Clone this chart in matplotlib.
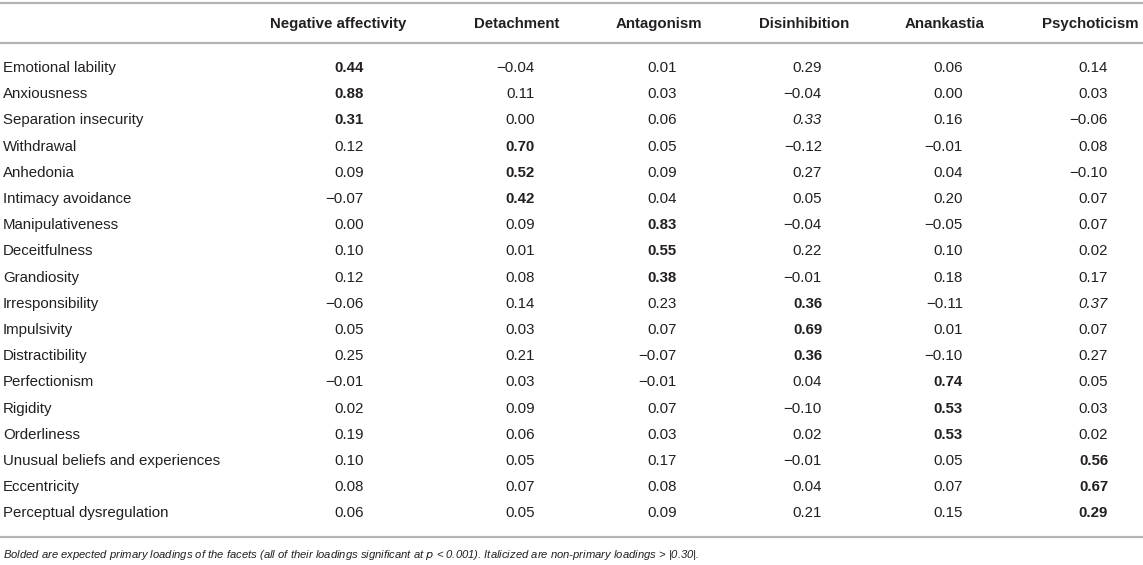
import matplotlib.pyplot as plt

# table data
columns = ["Negative affectivity", "Detachment", "Antagonism",
           "Disinhibition", "Anankastia", "Psychoticism"]
facets = ["Emotional lability", "Anxiousness", "Separation insecurity",
          "Withdrawal", "Anhedonia", "Intimacy avoidance",
          "Manipulativeness", "Deceitfulness", "Grandiosity",
          "Irresponsibility", "Impulsivity", "Distractibility",
          "Perfectionism", "Rigidity", "Orderliness",
          "Unusual beliefs and experiences", "Eccentricity",
          "Perceptual dysregulation"]

negative_affectivity = [0.44, 0.88, 0.31, 0.12, 0.09, -0.07, 0.00, 0.10, 0.12,
                        -0.06, 0.05, 0.25, -0.01, 0.02, 0.19, 0.10, 0.08, 0.06]
detachment = [-0.04, 0.11, 0.00, 0.70, 0.52, 0.42, 0.09, 0.01, 0.08,
              0.14, 0.03, 0.21, 0.03, 0.09, 0.06, 0.05, 0.07, 0.05]
antagonism = [0.01, 0.03, 0.06, 0.05, 0.09, 0.04, 0.83, 0.55, 0.38,
              0.23, 0.07, -0.07, -0.01, 0.07, 0.03, 0.17, 0.08, 0.09]
disinhibition = [0.29, -0.04, 0.33, -0.12, 0.27, 0.05, -0.04, 0.22, -0.01,
                 0.36, 0.69, 0.36, 0.04, -0.10, 0.02, -0.01, 0.04, 0.21]
anankastia = [0.06, 0.00, 0.16, -0.01, 0.04, 0.20, -0.05, 0.10, 0.18,
              -0.11, 0.01, -0.10, 0.74, 0.53, 0.53, 0.05, 0.07, 0.15]
psychoticism = [0.14, 0.03, -0.06, 0.08, -0.10, 0.07, 0.07, 0.02, 0.17,
                0.37, 0.07, 0.27, 0.05, 0.03, 0.02, 0.56, 0.67, 0.29]

# column index of the bold (primary) loading in each row
primary = [0, 0, 0, 1, 1, 1, 2, 2, 2, 3, 3, 3, 4, 4, 4, 5, 5, 5]
# (row, column) cells printed in italics
italic_cells = [(2, 3), (9, 5)]

footnote = ("Bolded are expected primary loadings of the facets (all of their "
            "loadings significant at $\\it{p}$ < 0.001). Italicized are "
            "non-primary loadings > |0.30|.")

# ---------layout-----------#
W, H = 1143, 565
header_x = [338, 517, 659, 804, 945, 1090]
value_right = [364, 535, 677, 822, 963, 1108]
header_y = 24
row_y0 = 68
row_step = 26.2
text_color = "#231f20"
line_color = "#b4b4b4"
fs = 10.8

plt.rcParams['font.family'] = ['Liberation Sans', 'DejaVu Sans']

fig = plt.figure(figsize=(W / 100, H / 100), dpi=100)
ax = fig.add_axes([0, 0, 1, 1])
ax.set_xlim(0, W)
ax.set_ylim(H, 0)
ax.axis('off')

for y in (3, 43, 537):
    ax.plot([0, W], [y, y], color=line_color, lw=1.6, solid_capstyle='butt')

for x, name in zip(header_x, columns):
    ax.text(x, header_y, name, ha='center', va='center', fontsize=fs,
            fontweight='bold', color=text_color)

table = [negative_affectivity, detachment, antagonism,
         disinhibition, anankastia, psychoticism]

for i, facet in enumerate(facets):
    y = row_y0 + i * row_step
    ax.text(3, y, facet, ha='left', va='center', fontsize=fs, color=text_color)
    for j, col in enumerate(table):
        label = f"{col[i]:.2f}".replace("-", "\u2212")
        weight = 'bold' if primary[i] == j else 'normal'
        style = 'italic' if (i, j) in italic_cells else 'normal'
        ax.text(value_right[j], y, label, ha='right', va='center', fontsize=fs,
                fontweight=weight, fontstyle=style, color=text_color)

ax.text(3, 555, footnote, ha='left', va='center', fontsize=8.1,
        fontstyle='italic', color=text_color)

fig.savefig("out.png", dpi=100)
